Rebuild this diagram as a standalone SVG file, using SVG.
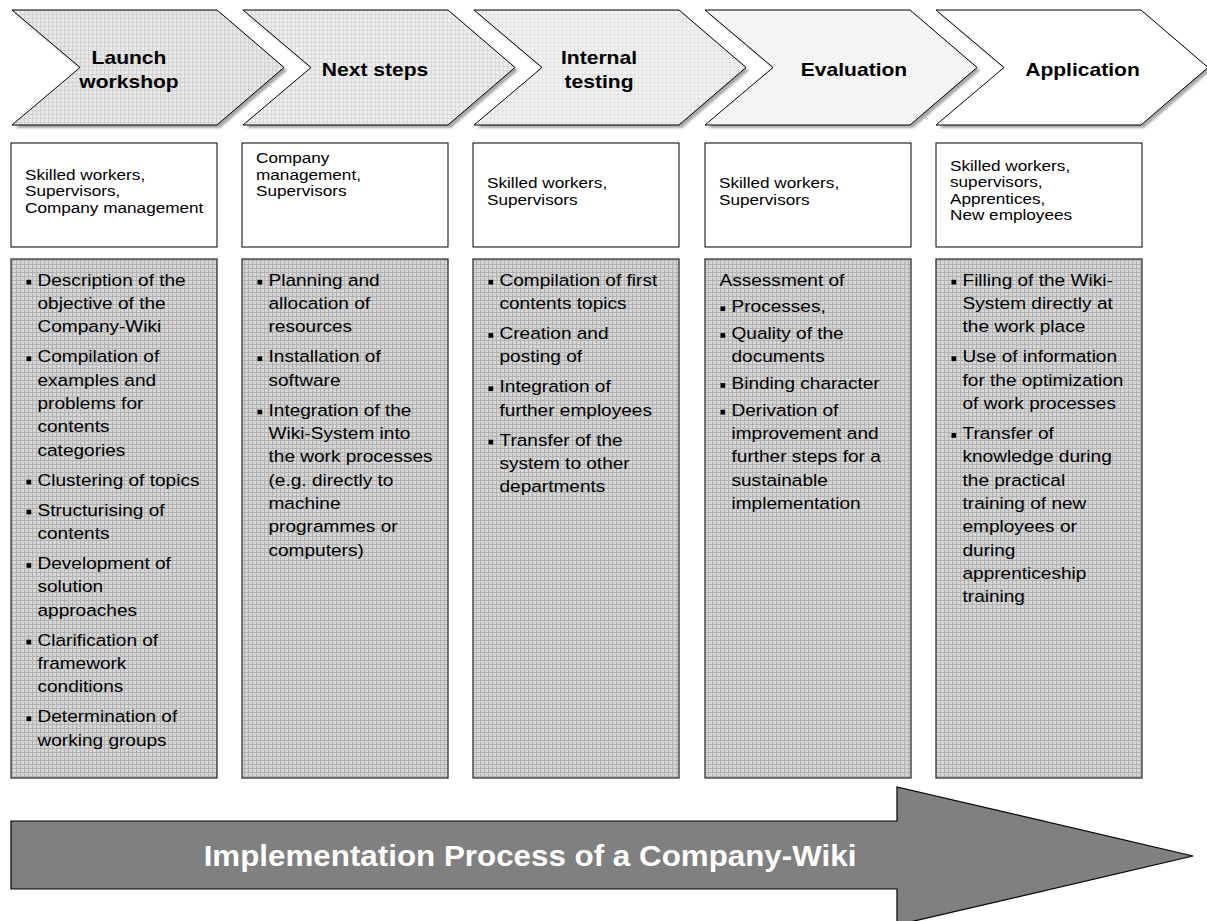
<svg xmlns="http://www.w3.org/2000/svg" xmlns:xlink="http://www.w3.org/1999/xlink" width="1207" height="921" viewBox="0 0 1207 921">
<style>
.ch{font-family:"Liberation Sans",Arial,sans-serif;font-weight:bold;font-size:18px;fill:#000;text-anchor:middle}
.pp{font-family:"Liberation Sans",Arial,sans-serif;font-size:15.2px;fill:#000}
.bd{font-family:"Liberation Sans",Arial,sans-serif;font-size:16.5px;fill:#000}
.tt{font-family:"Liberation Sans",Arial,sans-serif;font-weight:bold;font-size:30px;fill:#fff;text-anchor:middle}
.chev{stroke:#000;stroke-width:1}
.shadow{fill:#a8a8a8;stroke:none}
.pbox{fill:#fff;stroke:#000;stroke-width:1}
.cbox{fill:url(#gridBox);stroke:#333;stroke-width:1.3}
.bul{fill:#000}
</style>
<defs>
<pattern id="gridBox" width="4" height="4" patternUnits="userSpaceOnUse"><rect width="4" height="4" fill="#d6d6d6"/><path d="M0 .5H4M.5 0V4" stroke="#b2b2b2" stroke-width="1"/></pattern>
<pattern id="grid1" width="4" height="4" patternUnits="userSpaceOnUse"><rect width="4" height="4" fill="#e8e8e8"/><path d="M0 .5H4M.5 0V4" stroke="#d2d2d2" stroke-width="1"/></pattern>
<pattern id="grid2" width="4" height="4" patternUnits="userSpaceOnUse"><rect width="4" height="4" fill="#eeeeee"/><path d="M0 .5H4M.5 0V4" stroke="#dadada" stroke-width="1"/></pattern>
<pattern id="grid3" width="4" height="4" patternUnits="userSpaceOnUse"><rect width="4" height="4" fill="#f2f2f2"/><path d="M0 .5H4M.5 0V4" stroke="#e2e2e2" stroke-width="1"/></pattern>
<pattern id="grid4" width="4" height="4" patternUnits="userSpaceOnUse"><rect width="4" height="4" fill="#f7f7f7"/><rect x="0" y="0" width="1" height="1" fill="#dcdcdc"/><rect x="2" y="2" width="1" height="1" fill="#e4e4e4"/></pattern>
<polygon id="chevShape" points="0,0 205,0 272,57.5 205,115 0,115 68,57.5"/>
<filter id="blur" x="-5%" y="-5%" width="110%" height="110%"><feGaussianBlur stdDeviation="1"/></filter>
</defs>
<rect width="1207" height="921" fill="#fff"/>

<!-- Chevrons -->
<g id="stage-launch">
<use xlink:href="#chevShape" href="#chevShape" class="shadow" filter="url(#blur)" transform="translate(15,13)"/>
<use xlink:href="#chevShape" href="#chevShape" class="chev" fill="url(#grid1)" transform="translate(12,10)"/>
<text class="ch" transform="translate(129,0) scale(1.17,1)"><tspan x="0" y="64.5">Launch</tspan><tspan x="0" y="88">workshop</tspan></text>
</g>
<g id="stage-next">
<use xlink:href="#chevShape" href="#chevShape" class="shadow" filter="url(#blur)" transform="translate(246,13)"/>
<use xlink:href="#chevShape" href="#chevShape" class="chev" fill="url(#grid2)" transform="translate(243,10)"/>
<text class="ch" transform="translate(375,0) scale(1.17,1)"><tspan x="0" y="76">Next steps</tspan></text>
</g>
<g id="stage-testing">
<use xlink:href="#chevShape" href="#chevShape" class="shadow" filter="url(#blur)" transform="translate(477,13)"/>
<use xlink:href="#chevShape" href="#chevShape" class="chev" fill="url(#grid3)" transform="translate(474,10)"/>
<text class="ch" transform="translate(599,0) scale(1.17,1)"><tspan x="0" y="64.5">Internal</tspan><tspan x="0" y="88">testing</tspan></text>
</g>
<g id="stage-evaluation">
<use xlink:href="#chevShape" href="#chevShape" class="shadow" filter="url(#blur)" transform="translate(708,13)"/>
<use xlink:href="#chevShape" href="#chevShape" class="chev" fill="url(#grid4)" transform="translate(705,10)"/>
<text class="ch" transform="translate(854,0) scale(1.17,1)"><tspan x="0" y="76">Evaluation</tspan></text>
</g>
<g id="stage-application">
<use xlink:href="#chevShape" href="#chevShape" class="shadow" filter="url(#blur)" transform="translate(939,13)"/>
<use xlink:href="#chevShape" href="#chevShape" class="chev" fill="#fff" transform="translate(936,10)"/>
<text class="ch" transform="translate(1082.5,0) scale(1.17,1)"><tspan x="0" y="76">Application</tspan></text>
</g>

<!-- People boxes -->
<g id="people-launch">
<rect class="pbox" x="11" y="143" width="206" height="104"/>
<text class="pp" transform="translate(25,0) scale(1.13,1)"><tspan x="0" y="180">Skilled workers,</tspan><tspan x="0" y="196.5">Supervisors,</tspan><tspan x="0" y="213">Company management</tspan></text>
</g>
<g id="people-next">
<rect class="pbox" x="242" y="143" width="206" height="104"/>
<text class="pp" transform="translate(256,0) scale(1.13,1)"><tspan x="0" y="163.5">Company</tspan><tspan x="0" y="180">management,</tspan><tspan x="0" y="196.5">Supervisors</tspan></text>
</g>
<g id="people-testing">
<rect class="pbox" x="473" y="143" width="206" height="104"/>
<text class="pp" transform="translate(487,0) scale(1.13,1)"><tspan x="0" y="188.5">Skilled workers,</tspan><tspan x="0" y="205">Supervisors</tspan></text>
</g>
<g id="people-evaluation">
<rect class="pbox" x="705" y="143" width="206" height="104"/>
<text class="pp" transform="translate(719,0) scale(1.13,1)"><tspan x="0" y="188.5">Skilled workers,</tspan><tspan x="0" y="205">Supervisors</tspan></text>
</g>
<g id="people-application">
<rect class="pbox" x="936" y="143" width="206" height="104"/>
<text class="pp" transform="translate(950,0) scale(1.13,1)"><tspan x="0" y="171">Skilled workers,</tspan><tspan x="0" y="187.5">supervisors,</tspan><tspan x="0" y="204">Apprentices,</tspan><tspan x="0" y="220.5">New employees</tspan></text>
</g>

<!-- Content boxes -->
<g id="tasks-launch">
<rect class="cbox" x="11" y="259" width="206" height="519"/>
<g class="bul"><rect x="26.5" y="279.8" width="4.7" height="4.7"/><rect x="26.5" y="356.4" width="4.7" height="4.7"/><rect x="26.5" y="479.7" width="4.7" height="4.7"/><rect x="26.5" y="509.7" width="4.7" height="4.7"/><rect x="26.5" y="563.1" width="4.7" height="4.7"/><rect x="26.5" y="639.7" width="4.7" height="4.7"/><rect x="26.5" y="716.4" width="4.7" height="4.7"/></g>
<text class="bd" transform="translate(37.5,0) scale(1.155,1)"><tspan x="0" y="285.7">Description of the</tspan><tspan x="0" y="309">objective of the</tspan><tspan x="0" y="332.3">Company-Wiki</tspan><tspan x="0" y="362.3">Compilation of</tspan><tspan x="0" y="385.6">examples and</tspan><tspan x="0" y="409">problems for</tspan><tspan x="0" y="432.3">contents</tspan><tspan x="0" y="455.6">categories</tspan><tspan x="0" y="485.6">Clustering of topics</tspan><tspan x="0" y="515.6">Structurising of</tspan><tspan x="0" y="539">contents</tspan><tspan x="0" y="569">Development of</tspan><tspan x="0" y="592.3">solution</tspan><tspan x="0" y="615.6">approaches</tspan><tspan x="0" y="645.6">Clarification of</tspan><tspan x="0" y="669">framework</tspan><tspan x="0" y="692.3">conditions</tspan><tspan x="0" y="722.3">Determination of</tspan><tspan x="0" y="745.6">working groups</tspan></text>
</g>
<g id="tasks-next">
<rect class="cbox" x="242" y="259" width="206" height="519"/>
<g class="bul"><rect x="257.5" y="279.8" width="4.7" height="4.7"/><rect x="257.5" y="356.4" width="4.7" height="4.7"/><rect x="257.5" y="409.7" width="4.7" height="4.7"/></g>
<text class="bd" transform="translate(268.5,0) scale(1.155,1)"><tspan x="0" y="285.7">Planning and</tspan><tspan x="0" y="309">allocation of</tspan><tspan x="0" y="332.3">resources</tspan><tspan x="0" y="362.3">Installation of</tspan><tspan x="0" y="385.6">software</tspan><tspan x="0" y="415.6">Integration of the</tspan><tspan x="0" y="439">Wiki-System into</tspan><tspan x="0" y="462.3">the work processes</tspan><tspan x="0" y="485.6">(e.g. directly to</tspan><tspan x="0" y="509">machine</tspan><tspan x="0" y="532.3">programmes or</tspan><tspan x="0" y="555.6">computers)</tspan></text>
</g>
<g id="tasks-testing">
<rect class="cbox" x="473" y="259" width="206" height="519"/>
<g class="bul"><rect x="488.5" y="279.8" width="4.7" height="4.7"/><rect x="488.5" y="333.1" width="4.7" height="4.7"/><rect x="488.5" y="386.4" width="4.7" height="4.7"/><rect x="488.5" y="439.7" width="4.7" height="4.7"/></g>
<text class="bd" transform="translate(499.5,0) scale(1.155,1)"><tspan x="0" y="285.7">Compilation of first</tspan><tspan x="0" y="309">contents topics</tspan><tspan x="0" y="339">Creation and</tspan><tspan x="0" y="362.3">posting of</tspan><tspan x="0" y="392.3">Integration of</tspan><tspan x="0" y="415.6">further employees</tspan><tspan x="0" y="445.6">Transfer of the</tspan><tspan x="0" y="469">system to other</tspan><tspan x="0" y="492.3">departments</tspan></text>
</g>
<g id="tasks-evaluation">
<rect class="cbox" x="705" y="259" width="206" height="519"/>
<g class="bul"><rect x="720.5" y="306.4" width="4.7" height="4.7"/><rect x="720.5" y="333.1" width="4.7" height="4.7"/><rect x="720.5" y="383.1" width="4.7" height="4.7"/><rect x="720.5" y="409.8" width="4.7" height="4.7"/></g>
<text class="bd" transform="translate(719.5,0) scale(1.155,1)"><tspan x="0" y="285.7">Assessment of</tspan></text>
<text class="bd" transform="translate(731.5,0) scale(1.155,1)"><tspan x="0" y="312.3">Processes,</tspan><tspan x="0" y="339">Quality of the</tspan><tspan x="0" y="362.3">documents</tspan><tspan x="0" y="389">Binding character</tspan><tspan x="0" y="415.7">Derivation of</tspan><tspan x="0" y="439">improvement and</tspan><tspan x="0" y="462.3">further steps for a</tspan><tspan x="0" y="485.7">sustainable</tspan><tspan x="0" y="509">implementation</tspan></text>
</g>
<g id="tasks-application">
<rect class="cbox" x="936" y="259" width="206" height="519"/>
<g class="bul"><rect x="951.5" y="279.8" width="4.7" height="4.7"/><rect x="951.5" y="356.4" width="4.7" height="4.7"/><rect x="951.5" y="433.1" width="4.7" height="4.7"/></g>
<text class="bd" transform="translate(962.5,0) scale(1.155,1)"><tspan x="0" y="285.7">Filling of the Wiki-</tspan><tspan x="0" y="309">System directly at</tspan><tspan x="0" y="332.3">the work place</tspan><tspan x="0" y="362.3">Use of information</tspan><tspan x="0" y="385.6">for the optimization</tspan><tspan x="0" y="409">of work processes</tspan><tspan x="0" y="439">Transfer of</tspan><tspan x="0" y="462.3">knowledge during</tspan><tspan x="0" y="485.6">the practical</tspan><tspan x="0" y="509">training of new</tspan><tspan x="0" y="532.3">employees or</tspan><tspan x="0" y="555.6">during</tspan><tspan x="0" y="579">apprenticeship</tspan><tspan x="0" y="602.3">training</tspan></text>
</g>

<!-- Process arrow -->
<g id="process-arrow">
<polygon points="11,821 897,821 897,787 1193,856 897,925 897,889 11,889" fill="#808080" stroke="#000" stroke-width="1.2"/>
<text class="tt" transform="translate(530,0) scale(1.045,1)"><tspan x="0" y="866.5">Implementation Process of a Company-Wiki</tspan></text>
</g>
<g id="connectors"></g>
</svg>
